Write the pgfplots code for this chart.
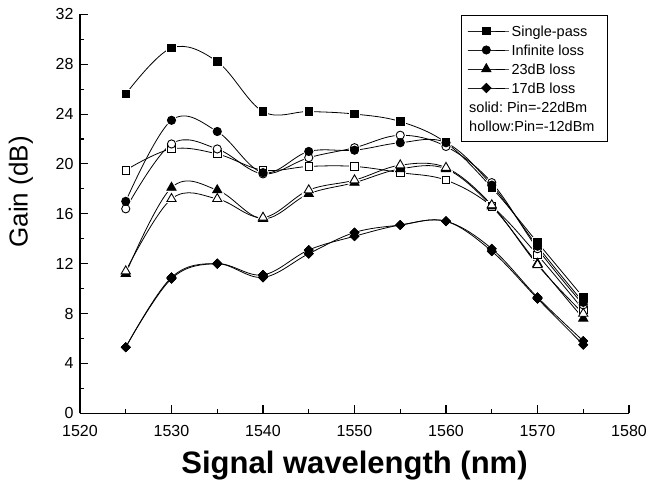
\documentclass[border=0pt]{standalone}
\usepackage{pgfplots}
\pgfplotsset{compat=1.18}
\usepackage{pgfplotstable}
\usepackage{fontspec}
\setmainfont{Liberation Sans}
\frenchspacing

\pgfplotstableread{
x    sps  sph  infs infh las  lah  lbs  lbh
1525 25.6 19.5 17.0 16.4 11.2 11.4 5.3  5.3
1530 29.3 21.2 23.5 21.6 18.1 17.2 10.8 10.9
1535 28.2 20.8 22.6 21.2 17.9 17.2 12.0 12.0
1540 24.2 19.5 19.3 19.2 15.6 15.7 11.1 10.9
1545 24.2 19.8 21.0 20.5 17.6 17.9 13.1 12.8
1550 24.0 19.8 21.1 21.3 18.5 18.7 14.2 14.5
1555 23.4 19.3 21.7 22.3 19.6 19.9 15.1 15.1
1560 21.7 18.7 21.7 21.4 19.6 19.7 15.4 15.4
1565 18.1 16.6 18.3 18.5 16.6 16.7 13.2 13.0
1570 13.7 12.7 13.4 13.2 12.0 11.9 9.3  9.2
1575 9.3  8.3  8.9  8.7  7.6  8.0  5.8  5.5
}\gaindata

\pgfplotsset{
  ln/.style={black, line width=0.8pt, smooth, tension=0.6, no marks, forget plot},
  halo/.style={only marks, forget plot, mark options={draw=white, fill=white, line width=3pt}},
  mk/.style={only marks, forget plot},
  solid mk/.style={mark options={draw=black, fill=black, line width=0.9pt}},
  hollow mk/.style={mark options={draw=black, fill=white, line width=0.9pt}},
}

\begin{document}
\begin{tikzpicture}
\useasboundingbox (-80pt,-72pt) rectangle (567pt,413.3pt);
\begin{axis}[
  at={(0pt,0pt)}, anchor=south west,
  scale only axis, width=549pt, height=399pt,
  xmin=1520, xmax=1580, ymin=0, ymax=32,
  xtick={1520,1530,...,1580}, ytick={0,4,...,32},
  minor x tick num=1, minor y tick num=1,
  axis x line*=bottom, axis y line*=left,
  tick align=inside,
  major tick length=8pt, minor tick length=4.5pt,
  axis line style={line width=1.3pt},
  every tick/.style={black, line width=1.1pt},
  tick label style={font=\fontsize{16}{19}\selectfont},
  /pgf/number format/assume math mode=true,
  /pgf/number format/set thousands separator={},
  yticklabel style={xshift=-3pt},
  xticklabel style={yshift=-8pt},
  ylabel={Gain (dB)},
  ylabel style={font=\fontsize{26}{30}\selectfont, at={(axis description cs:-0.1075,0.555)}, anchor=center},
  xlabel={Signal wavelength (nm)},
  xlabel style={font=\bfseries\fontsize{31}{36}\selectfont, at={(axis description cs:0.5,-0.13)}, anchor=center},
  legend style={at={(axis description cs:0.694,0.998)}, anchor=north west, draw=black, line width=0.8pt,
    font=\fontsize{14.5}{17}\selectfont, inner xsep=6pt, inner ysep=6pt, row sep=0pt,
    nodes={text height=12.7pt, text depth=1.5pt, inner sep=2.4pt}},
  legend cell align=left,
  legend image code/.code={
    \draw[mark repeat=2, mark phase=2, line width=0.8pt, #1] plot coordinates {(0pt,0pt) (18.5pt,0pt) (37pt,0pt)};
    \path (0pt,0pt) rectangle (41pt,0pt);
  },
]
% lines
\addplot[ln] table[x=x, y=sps] {\gaindata};
\addplot[ln] table[x=x, y=sph] {\gaindata};
\addplot[ln] table[x=x, y=infs] {\gaindata};
\addplot[ln] table[x=x, y=infh] {\gaindata};
\addplot[ln] table[x=x, y=las] {\gaindata};
\addplot[ln] table[x=x, y=lah] {\gaindata};
\addplot[ln] table[x=x, y=lbs] {\gaindata};
\addplot[ln] table[x=x, y=lbh] {\gaindata};
% halos
\addplot[halo, mark=square*, mark size=3.8pt] table[x=x, y=sps] {\gaindata};
\addplot[halo, mark=square*, mark size=3.8pt] table[x=x, y=sph] {\gaindata};
\addplot[halo, mark=*, mark size=4.1pt] table[x=x, y=infs] {\gaindata};
\addplot[halo, mark=*, mark size=4.1pt] table[x=x, y=infh] {\gaindata};
\addplot[halo, mark=triangle*, mark size=5.3pt] table[x=x, y=las] {\gaindata};
\addplot[halo, mark=triangle*, mark size=5.3pt] table[x=x, y=lah] {\gaindata};
\addplot[halo, mark=square*, mark size=3.3pt, mark options={rotate=45}] table[x=x, y=lbs] {\gaindata};
\addplot[halo, mark=square*, mark size=3.3pt, mark options={rotate=45}] table[x=x, y=lbh] {\gaindata};
% marks
\addplot[mk, hollow mk, mark=square*, mark size=3.8pt] table[x=x, y=sph] {\gaindata};
\addplot[mk, solid mk, mark=square*, mark size=3.8pt] table[x=x, y=sps] {\gaindata};
\addplot[mk, hollow mk, mark=*, mark size=4.1pt] table[x=x, y=infh] {\gaindata};
\addplot[mk, solid mk, mark=*, mark size=4.1pt] table[x=x, y=infs] {\gaindata};
\addplot[mk, solid mk, mark=triangle*, mark size=5.3pt] table[x=x, y=las] {\gaindata};
\addplot[mk, hollow mk, mark=triangle*, mark size=5.3pt] table[x=x, y=lah] {\gaindata};
\addplot[mk, hollow mk, mark=square*, mark size=3.3pt, mark options={rotate=45}] table[x=x, y=lbh] {\gaindata};
\addplot[mk, solid mk, mark=square*, mark size=3.3pt, mark options={rotate=45}] table[x=x, y=lbs] {\gaindata};
% legend
\addlegendimage{black, mark=square*, mark size=3.8pt, mark options={fill=black}}
\addlegendentry{Single-pass}
\addlegendimage{black, mark=*, mark size=4.1pt, mark options={fill=black}}
\addlegendentry{Infinite loss}
\addlegendimage{black, mark=triangle*, mark size=5.3pt, mark options={fill=black}}
\addlegendentry{23dB loss}
\addlegendimage{black, mark=square*, mark size=3.3pt, mark options={fill=black, rotate=45}}
\addlegendentry{17dB loss}
\addlegendimage{empty legend}
\addlegendentry{\hspace{-42.4pt}\makebox[130pt][l]{solid: Pin=-22dBm}}
\addlegendimage{empty legend}
\addlegendentry{\hspace{-42.4pt}\makebox[130pt][l]{hollow:Pin=-12dBm}}
\end{axis}
\end{tikzpicture}
\end{document}
